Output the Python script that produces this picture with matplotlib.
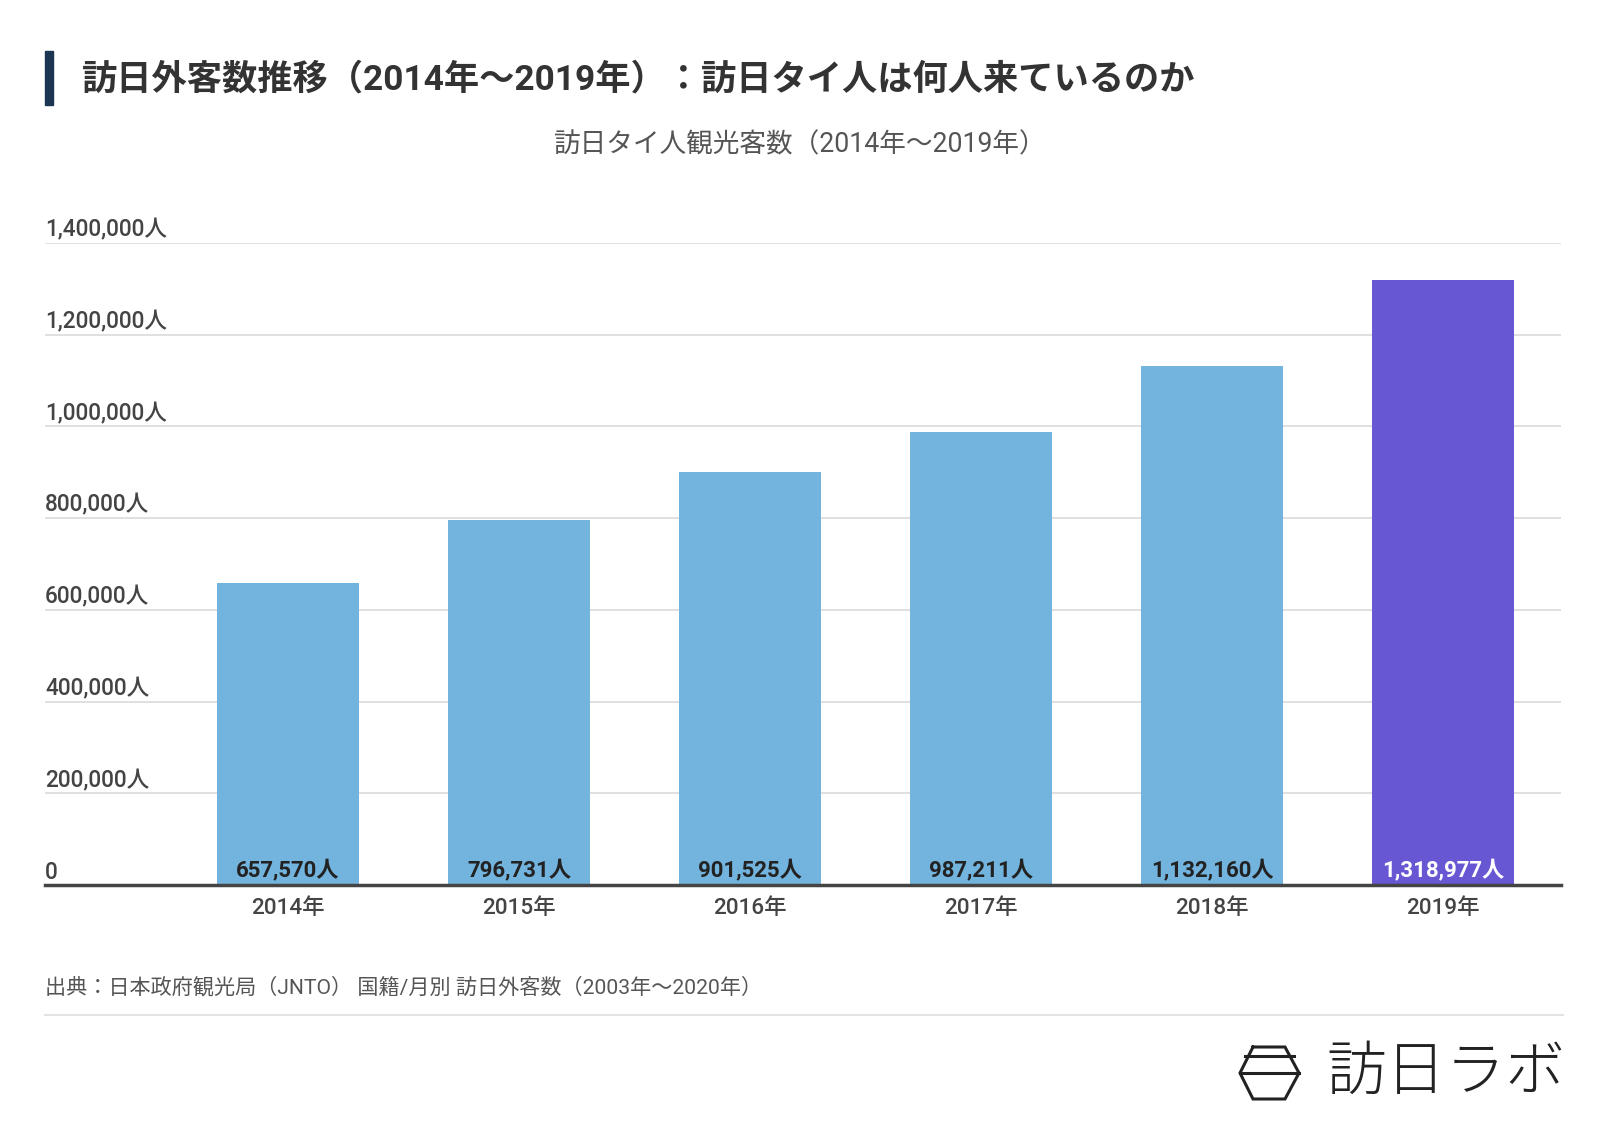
import matplotlib
matplotlib.use("Agg")
import matplotlib.pyplot as plt
from matplotlib.lines import Line2D
from matplotlib.patches import Rectangle
import matplotlib.transforms as mtransforms

plt.rcParams['font.family'] = ['Roboto', 'Noto Sans CJK JP', 'DejaVu Sans']

years = ["2014年", "2015年", "2016年", "2017年", "2018年", "2019年"]
visitors = [657570, 796731, 901525, 987211, 1132160, 1318977]
bar_colors = ["#73b4de", "#73b4de", "#73b4de", "#73b4de", "#73b4de", "#6757d3"]
label_colors = ["#222222"] * 5 + ["#ffffff"]
yticks = [0, 200000, 400000, 600000, 800000, 1000000, 1200000, 1400000]

W, H = 1600, 1142
fig = plt.figure(figsize=(W / 100, H / 100), dpi=100)

def fx(px):
    return px / W

def fy(py):
    return 1 - py / H

# Title with accent bar
fig.patches.append(Rectangle((fx(45), fy(105)), fx(8), (105 - 51) / H,
                             transform=fig.transFigure, color="#1b3552", zorder=3))
fig.text(fx(82), fy(80), "訪日外客数推移（2014年～2019年）：訪日タイ人は何人来ているのか",
         fontsize=25.4, fontweight="bold", color="#333333", va="center", ha="left")
fig.text(0.5, fy(145), "訪日タイ人観光客数（2014年～2019年）",
         fontsize=19.2, color="#555555", va="center", ha="center")

# Axes
left, right, bottom_px, top_px = 45, 1561, 885, 243
ax = fig.add_axes([fx(left), fy(bottom_px), fx(right - left), (bottom_px - top_px) / H])
x = list(range(len(years)))
ax.bar(x, visitors, width=0.615, color=bar_colors, zorder=2)
ax.set_xlim(-1.052, 5.51)
ax.set_ylim(0, 1400000)

for s in ["top", "right", "left"]:
    ax.spines[s].set_visible(False)
ax.spines["bottom"].set_color("#444444")
ax.spines["bottom"].set_linewidth(2.5)
ax.spines["bottom"].set_zorder(4)

ax.set_yticks(yticks)
ax.yaxis.grid(True, color="#dddddd", linewidth=1.3, zorder=0)
ax.tick_params(axis="y", length=0, labelleft=False)
ax.set_xticks(x)
ax.set_xticklabels(years, fontsize=16.2, fontweight="medium", color="#444444")
ax.tick_params(axis="x", length=0, pad=9.5)

trans = mtransforms.blended_transform_factory(ax.transAxes, ax.transData)
for v in yticks:
    lab = "0" if v == 0 else f"{v:,}人"
    ax.annotate(lab, xy=(0, v), xycoords=trans, xytext=(0, 1), textcoords="offset points",
                fontsize=16.3, fontweight="medium", color="#444444", ha="left", va="bottom")

for xi, v, c in zip(x, visitors, label_colors):
    ax.annotate(f"{v:,}人", xy=(xi, 0), xytext=(0, 2), textcoords="offset points",
                fontsize=16, fontweight="bold", color=c, ha="center", va="bottom", zorder=5)

# Source and separator
fig.text(fx(45), fy(987), "出典：日本政府観光局（JNTO） 国籍/月別 訪日外客数（2003年～2020年）",
         fontsize=15.2, color="#555555", va="center", ha="left")
fig.lines.append(Line2D([fx(45), fx(1563)], [fy(1015), fy(1015)], transform=fig.transFigure,
                        color="#e3e3e3", linewidth=1.5))

# Logo icon
lc = "#222222"
hx = [1253, 1285, 1299, 1285, 1253, 1240, 1253]
hy = [1047, 1047, 1073, 1099, 1099, 1073, 1047]
fig.lines.append(Line2D([fx(p) for p in hx], [fy(p) for p in hy], transform=fig.transFigure,
                        color=lc, linewidth=2.2, solid_joinstyle="miter"))
fig.lines.append(Line2D([fx(1245), fx(1294)], [fy(1056), fy(1056)], transform=fig.transFigure,
                        color=lc, linewidth=2.2))
fig.lines.append(Line2D([fx(1240), fx(1299)], [fy(1073), fy(1073)], transform=fig.transFigure,
                        color=lc, linewidth=2.2))
fig.text(fx(1326), fy(1073), "訪日ラボ", family=['Noto Sans CJK JP'], fontsize=43,
         fontweight="light", color=lc, va="center", ha="left")

fig.savefig("out.png", dpi=100, facecolor="white")
